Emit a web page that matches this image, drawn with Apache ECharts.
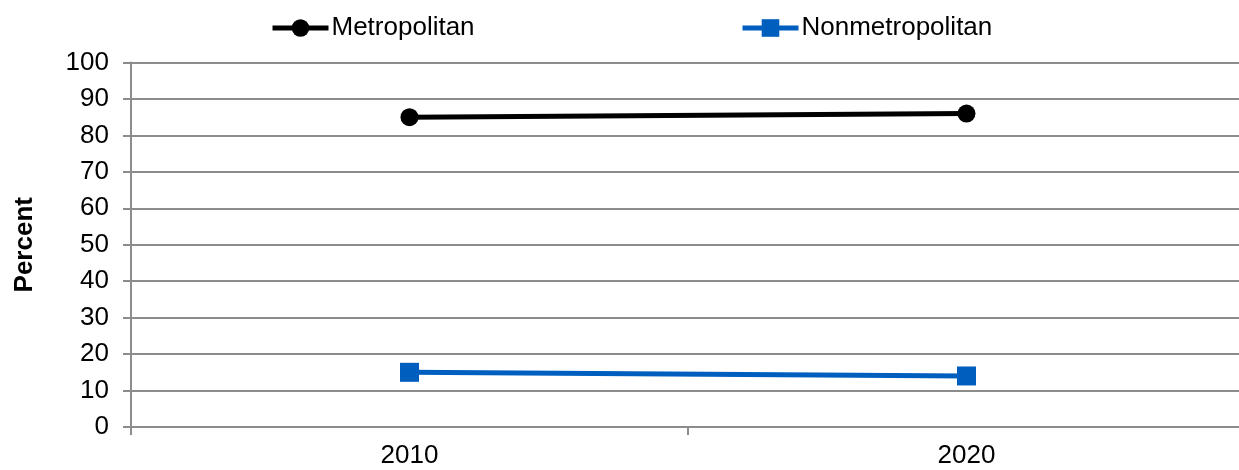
<!DOCTYPE html>
<html>
<head>
<meta charset="utf-8">
<script src="https://cdn.jsdelivr.net/npm/echarts@6/dist/echarts.min.js"></script>
<style>
html,body{margin:0;padding:0;background:#fff;}
#chart{width:1239px;height:470px;}
</style>
</head>
<body>
<div id="chart"></div>
<script>
const categories = ['2010', '2020'];
const metropolitan = [85, 86];
const nonmetropolitan = [15, 14];
const yTicks = { min: 0, max: 100, interval: 10 };

const FONT = '"Liberation Sans", Arial, sans-serif';
const chart = echarts.init(document.getElementById('chart'));
const legendCommon = {
  top: 15, itemWidth: 56, itemHeight: 22, itemGap: 5, padding: 0,
  lineStyle: { width: 5 },
  textStyle: { fontFamily: FONT, fontSize: 26, color: '#000', padding: [0, 0, 0, -2] }
};
chart.setOption({
  animation: false,
  backgroundColor: '#fff',
  textStyle: { fontFamily: FONT },
  legend: [
    Object.assign({ data: ['Metropolitan'], left: 270 }, legendCommon),
    Object.assign({ data: ['Nonmetropolitan'], left: 740 }, legendCommon)
  ],
  grid: { left: 131, width: 1114, top: 62.5, bottom: 43, containLabel: false, outerBoundsMode: 'none' },
  xAxis: {
    type: 'category',
    data: categories,
    boundaryGap: true,
    axisLine: { lineStyle: { color: '#8c8c8c', width: 2 } },
    axisTick: { show: true, length: 8, lineStyle: { color: '#8c8c8c', width: 2 } },
    axisLabel: { fontSize: 26, color: '#000', margin: 16, fontFamily: FONT },
    splitLine: { show: false }
  },
  yAxis: {
    type: 'value',
    min: yTicks.min, max: yTicks.max, interval: yTicks.interval,
    name: 'Percent',
    nameLocation: 'middle',
    nameGap: 93,
    nameRotate: 90,
    nameTextStyle: { fontSize: 26, fontWeight: 'bold', color: '#000', fontFamily: FONT },
    axisLine: { show: true, lineStyle: { color: '#8c8c8c', width: 2 } },
    axisTick: { show: true, length: 8, lineStyle: { color: '#8c8c8c', width: 2 } },
    axisLabel: { fontSize: 26, color: '#000', margin: 22, fontFamily: FONT },
    splitLine: { show: true, lineStyle: { color: '#8c8c8c', width: 2 } }
  },
  series: [
    {
      name: 'Metropolitan', type: 'line', data: metropolitan,
      symbol: 'circle', symbolSize: 18,
      itemStyle: { color: '#000' },
      lineStyle: { color: '#000', width: 5 }
    },
    {
      name: 'Nonmetropolitan', type: 'line', data: nonmetropolitan,
      symbol: 'rect', symbolSize: 19,
      itemStyle: { color: '#005FBE' },
      lineStyle: { color: '#005FBE', width: 5 }
    }
  ]
});
</script>
</body>
</html>
